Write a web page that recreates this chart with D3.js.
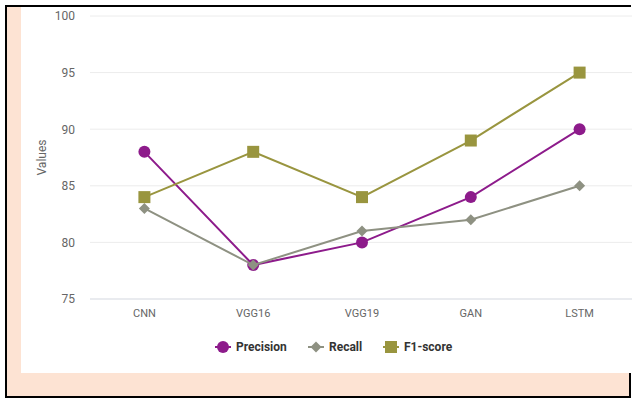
<!DOCTYPE html>
<html>
<head>
<meta charset="utf-8">
<script src="https://cdn.jsdelivr.net/npm/d3@7"></script>
<style>
  html, body { margin: 0; padding: 0; background: #fff; }
  svg { display: block; font-family: Roboto, "Noto Sans", sans-serif; }
</style>
</head>
<body>
<svg id="chart" width="632" height="399"></svg>
<script>
// Model names along the x axis
const categories = ["CNN", "VGG16", "VGG19", "GAN", "LSTM"];
// Metric values per model
const precision = [88, 78, 80, 84, 90];
const recall = [83, 78, 81, 82, 85];
const f1score = [84, 88, 84, 89, 95];
// Y axis ticks
const yTicks = [75, 80, 85, 90, 95, 100];

const seriesNames = ["Precision", "Recall", "F1-score"];
const seriesValues = [precision, recall, f1score];
const colors = ["#8d1b8b", "#8e9182", "#99953f"];
const shapes = ["circle", "diamond", "square"];

const svg = d3.select("#chart");

// Frame: peach card with black edge, white plot panel on top
svg.append("rect").attr("x", 6).attr("y", 6).attr("width", 623).attr("height", 391).attr("fill", "#fde3d3");
svg.append("rect").attr("x", 21).attr("y", 7).attr("width", 611).attr("height", 366).attr("fill", "#ffffff");
svg.append("line").attr("x1", 5).attr("x2", 631).attr("y1", 6).attr("y2", 6).attr("stroke", "#000").attr("stroke-width", 2);
svg.append("line").attr("x1", 6).attr("x2", 6).attr("y1", 5).attr("y2", 398).attr("stroke", "#000").attr("stroke-width", 2);
svg.append("line").attr("x1", 5).attr("x2", 631).attr("y1", 397).attr("y2", 397).attr("stroke", "#000").attr("stroke-width", 2);
svg.append("line").attr("x1", 630).attr("x2", 630).attr("y1", 373).attr("y2", 398).attr("stroke", "#000").attr("stroke-width", 2);

const x = d3.scaleBand().domain(categories).range([90, 634]);
const y = d3.scaleLinear().domain([75, 100]).range([299, 16]);

// Horizontal grid
const grid = svg.append("g");
grid.selectAll("line").data(yTicks).join("line")
  .attr("x1", 90).attr("x2", 632)
  .attr("y1", d => y(d)).attr("y2", d => y(d))
  .attr("stroke", d => d === 75 ? "#e2e5ea" : "#ececec")
  .attr("stroke-width", d => d === 75 ? 1.5 : 1);

// Y axis labels
const yAxis = svg.append("g").attr("transform", "translate(90,0)")
  .call(d3.axisLeft(y).tickValues(yTicks).tickSize(0).tickPadding(15));
yAxis.select(".domain").remove();
yAxis.selectAll("text").attr("fill", "#666").attr("font-size", 12).attr("font-family", "Roboto, sans-serif");

// X axis labels
const xAxis = svg.append("g").attr("transform", "translate(0,299)")
  .call(d3.axisBottom(x).tickSize(0).tickPadding(10));
xAxis.select(".domain").remove();
xAxis.selectAll("text").attr("fill", "#666").attr("font-size", 11).attr("font-family", "Roboto, sans-serif");

// Y axis title
svg.append("text")
  .attr("transform", "translate(46,157.5) rotate(-90)")
  .attr("text-anchor", "middle")
  .attr("fill", "#666").attr("font-size", 12)
  .text("Values");

function marker(sel, shape, color) {
  if (shape === "circle") {
    sel.append("circle").attr("r", 6).attr("fill", color);
  } else if (shape === "diamond") {
    sel.append("path").attr("d", "M0,-5.5L5.5,0L0,5.5L-5.5,0Z").attr("fill", color);
  } else {
    sel.append("rect").attr("x", -6).attr("y", -6).attr("width", 12).attr("height", 12).attr("fill", color);
  }
}

const line = d3.line().x(d => x(d.c) + x.bandwidth() / 2).y(d => y(d.v));

seriesValues.forEach((vals, i) => {
  const pts = categories.map((c, j) => ({ c, v: vals[j] }));
  const g = svg.append("g");
  g.append("path").datum(pts).attr("d", line)
    .attr("fill", "none").attr("stroke", colors[i]).attr("stroke-width", 2);
  g.selectAll("g.pt").data(pts).join("g").attr("class", "pt")
    .attr("transform", d => `translate(${x(d.c) + x.bandwidth() / 2},${y(d.v)})`)
    .each(function () { marker(d3.select(this), shapes[i], colors[i]); });
});

// Legend
const legendPos = [223, 316, 391];
const legend = svg.append("g").attr("transform", "translate(0,347)");
seriesNames.forEach((name, i) => {
  const item = legend.append("g").attr("transform", `translate(${legendPos[i]},0)`);
  item.append("line").attr("x1", -8).attr("x2", 8).attr("stroke", colors[i]).attr("stroke-width", 2);
  marker(item, shapes[i], colors[i]);
  item.append("text").attr("x", i === 2 ? 13 : 13).attr("dy", "0.35em")
    .attr("fill", "#333").attr("font-size", 12).attr("font-weight", "bold")
    .text(name);
});
</script>
</body>
</html>
